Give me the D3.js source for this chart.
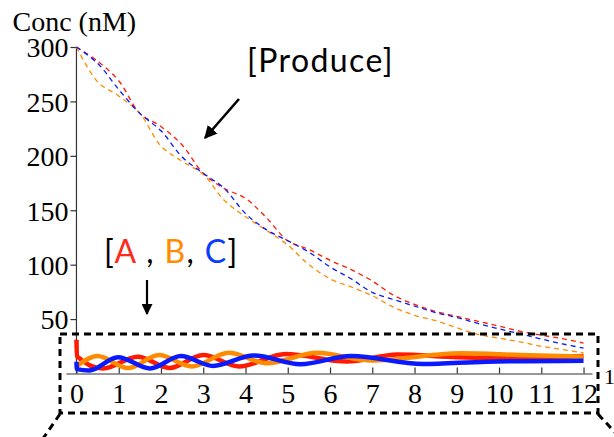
<!DOCTYPE html>
<html><head><meta charset="utf-8">
<script src="https://cdn.jsdelivr.net/npm/d3@7"></script>
<style>
html,body{margin:0;padding:0;background:#fff;}
svg{display:block;}
</style></head>
<body><div id="chart"></div>
<script>
// ---- data ----
const produceTimes = [0,0.5,1,1.5,2,2.5,3,3.5,4,4.5,5,5.5,6,6.5,7,7.5,8,8.5,9,9.5,10,10.5,11,11.5,12];
const produceA = [300,287,269,239,227,210,184,170,161,143,122,114,104,95.5,85,72,63.5,57,52.5,48,43.5,38.8,35.2,32,28];
const produceB = [300,268,255,239,209,195,183,159,144,131.5,118,100,87,79.5,71.5,61,53.5,48.5,42,36,32.5,29,25,22,19];
const produceC = [300,285,261,239,223,199,184,170,147,132,122,111.5,98,87,74.5,68,62,56,51.5,46,41,36.5,31.7,27.2,23.4];

const timesA = [0,0.01,0.63,1.45,2.2,3.0,3.85,4.95,6.4,7.6,9.0,10.5,12];
const valuesA = [31,16,4.5,15.5,5,17,6.5,18,11,17.5,15,14,16];
const timesB = [0,0.5,1.22,1.95,2.73,3.6,4.5,5.7,6.95,9.1,10.5,12];
const valuesB = [6.5,16,5,17,6.5,19,9.5,19,12,18.5,17,15.5];
const timesC = [0,0.01,0.3,0.98,1.74,2.47,3.23,4.2,5.3,6.5,8.2,9.7,12];
const valuesC = [10.8,4,2.8,15,4.6,16,7,16.5,8.5,16,8.7,10.9,11.8];

const xTicks = [0,1,2,3,4,5,6,7,8,9,10,11,12];
const yTicks = [50,100,150,200,250,300];
const yLabel = "Conc (nM)";

const colA = "#ff1a00", colB = "#ff8c00", colC = "#0a1aff";

// ---- layout ----
const W = 614, H = 437;
const svg = d3.select("#chart").append("svg").attr("width", W).attr("height", H);

const x = d3.scaleLinear().domain([-0.25, 12.2]).range([65.9, 592]);
const y = d3.scaleLinear().domain([0, 300]).range([373.5, 47]);

const serif = "'Liberation Serif','Times New Roman',serif";
const sans = "Lato,'Open Sans',sans-serif";

// y axis
const yAxis = svg.append("g").attr("transform", `translate(${x(0)},0)`)
  .call(d3.axisLeft(y).tickValues(yTicks).tickSize(6).tickSizeOuter(0).tickPadding(2));
yAxis.select(".domain").attr("d", `M0,${y(0)}V${y(300)}`);
// x axis
const xAxis = svg.append("g").attr("transform", `translate(0,${y(0)})`)
  .call(d3.axisBottom(x).tickValues(xTicks).tickSize(-6).tickSizeOuter(0).tickPadding(10));

[yAxis, xAxis].forEach(g => {
  g.selectAll("path,line").attr("stroke", "#333").attr("stroke-width", 1.2);
  g.selectAll("text").attr("font-family", serif).attr("font-size", 28).attr("fill", "#000");
});
yAxis.selectAll("text").attr("dy", "0.35em");

svg.append("text").attr("x", 12.5).attr("y", 31).attr("font-family", serif)
  .attr("font-size", 28).text(yLabel);

// produce (dashed)
const prodLine = d3.line().x(d => x(d[0])).y(d => y(d[1])).curve(d3.curveCatmullRom.alpha(0.5));
[[produceA, colA], [produceB, colB], [produceC, colC]].forEach(([vals, c]) => {
  svg.append("path").datum(produceTimes.map((t, i) => [t, vals[i]]))
    .attr("d", prodLine).attr("fill", "none").attr("stroke", c)
    .attr("stroke-width", 1.3).attr("stroke-dasharray", "5,4");
});

// A, B, C (thick)
const oscLine = d3.line().x(d => x(d[0])).y(d => y(d[1])).curve(d3.curveMonotoneX);
[[timesA, valuesA, colA], [timesB, valuesB, colB], [timesC, valuesC, colC]].forEach(([ts, vs, c]) => {
  svg.append("path").datum(ts.map((t, i) => [t, vs[i]]))
    .attr("d", oscLine).attr("fill", "none").attr("stroke", c)
    .attr("stroke-width", 4.5).attr("stroke-linejoin", "round");
});

// dashed zoom box
const box = svg.append("g").attr("fill", "none").attr("stroke", "#000")
  .attr("stroke-width", 3).attr("stroke-dasharray", "7,5");
box.append("rect").attr("x", 60).attr("y", 334).attr("width", 538).attr("height", 79);
box.append("line").attr("x1", 60).attr("y1", 414).attr("x2", 42).attr("y2", 440);
box.append("line").attr("x1", 598).attr("y1", 414).attr("x2", 622).attr("y2", 440);

// cut off label at right edge
svg.append("text").attr("x", 604).attr("y", 384).attr("font-family", serif)
  .attr("font-size", 22).text("1");

// arrows
const defs = svg.append("defs");
defs.append("marker").attr("id", "ah").attr("viewBox", "0 0 10 10").attr("refX", 9).attr("refY", 5)
  .attr("markerWidth", 5).attr("markerHeight", 5).attr("orient", "auto")
  .append("path").attr("d", "M0,0L10,5L0,10z").attr("fill", "#000");
svg.append("line").attr("x1", 239).attr("y1", 99).attr("x2", 205).attr("y2", 138)
  .attr("stroke", "#000").attr("stroke-width", 2.6).attr("marker-end", "url(#ah)");
svg.append("line").attr("x1", 147).attr("y1", 280).attr("x2", 147).attr("y2", 314)
  .attr("stroke", "#000").attr("stroke-width", 2.2).attr("marker-end", "url(#ah)");

// annotations
svg.append("text").attr("x", 247).attr("y", 72).attr("font-family", sans)
  .attr("font-size", 32).attr("letter-spacing", 1.4).text("[Produce]");
const t2 = svg.append("text").attr("x", 104).attr("y", 263).attr("font-family", sans)
  .attr("font-size", 32).attr("letter-spacing", 1.4).attr("fill", "#000");
t2.append("tspan").text("[");
t2.append("tspan").attr("fill", "#ff2a1a").text("A");
t2.append("tspan").text(" , ");
t2.append("tspan").attr("fill", "#ff8c00").text("B");
t2.append("tspan").text(", ");
t2.append("tspan").attr("fill", "#0a3cff").text("C");
t2.append("tspan").text("]");
</script></body></html>
